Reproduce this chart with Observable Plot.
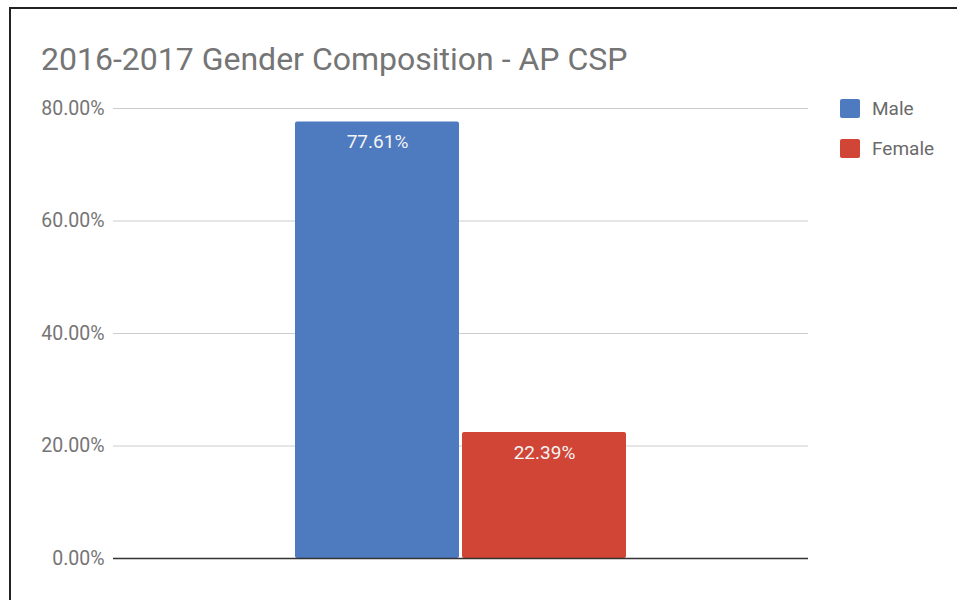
<!DOCTYPE html>
<html>
<head>
<meta charset="utf-8">
<script src="https://cdn.jsdelivr.net/npm/d3@7"></script>
<script src="https://cdn.jsdelivr.net/npm/@observablehq/plot@0.6"></script>
<style>
  html, body { margin: 0; padding: 0; background: #fff; }
  body { width: 957px; height: 600px; position: relative; overflow: hidden; font-family: Roboto, "Noto Sans", sans-serif; }
  #frame { position: absolute; left: 9px; top: 7px; width: 960px; height: 600px; border-left: 2px solid #222; border-top: 2px solid #222; z-index: 10; pointer-events: none; }
  #titlebox { position: relative; height: 90px; }
  #title { position: absolute; left: 41px; top: 43px; line-height: 32px; font-size: 32px; color: #757575; white-space: nowrap; }
  #chart svg { display: block; }
  #legend { position: absolute; left: 840px; top: 99px; z-index: 5; }
  .item { position: relative; height: 39.5px; }
  .sw { position: absolute; left: 0; top: 0; width: 20px; height: 19px; border-radius: 2px; }
  .lb { position: absolute; left: 32px; top: -1px; line-height: 21px; font-size: 19px; color: #6a6a6a; white-space: nowrap; }
</style>
</head>
<body>
<div id="frame"></div>
<div id="titlebox"><div id="title">2016-2017 Gender Composition - AP CSP</div></div>
<div id="chart"></div>
<div id="legend"></div>
<script>
const genders = ["Male", "Female"];
const shares = [77.61, 22.39];
const colors = ["#4e7abf", "#d04536"];
const yTicks = [0, 20, 40, 60, 80];

const data = genders.map((g, i) => ({gender: g, share: shares[i]}));
const fmt = d => d.toFixed(2) + "%";

const chart = Plot.plot({
  width: 957,
  height: 510,
  marginTop: 18,
  marginBottom: 42,
  marginLeft: 113,
  marginRight: 149,
  style: {fontFamily: "Roboto, sans-serif", fontSize: "19.5px", color: "#757575", background: "white", overflow: "visible"},
  x: {domain: genders, range: [295, 626], paddingInner: 0.018, paddingOuter: 0, round: false, axis: null},
  y: {domain: [0, 80], ticks: yTicks, tickFormat: fmt, label: null, tickSize: 0, tickPadding: 9},
  color: {domain: genders, range: colors},
  marks: [
    Plot.ruleY(yTicks.filter(t => t > 0), {stroke: "#cccccc", strokeWidth: 1}),
    Plot.barY(data, {x: "gender", y: "share", fill: "gender", rx: 2}),
    Plot.ruleY([0], {stroke: "#333333", strokeWidth: 1.5}),
    Plot.text(data, {x: "gender", y: "share", text: d => fmt(d.share), dy: 20, fill: "#f4f4f4", fontSize: 19})
  ]
});
document.getElementById("chart").appendChild(chart);

const legend = document.getElementById("legend");
genders.forEach((g, i) => {
  const item = document.createElement("div");
  item.className = "item";
  const sw = document.createElement("div");
  sw.className = "sw";
  sw.style.background = colors[i];
  const lb = document.createElement("div");
  lb.className = "lb";
  lb.textContent = g;
  item.appendChild(sw);
  item.appendChild(lb);
  legend.appendChild(item);
});
</script>
</body>
</html>
